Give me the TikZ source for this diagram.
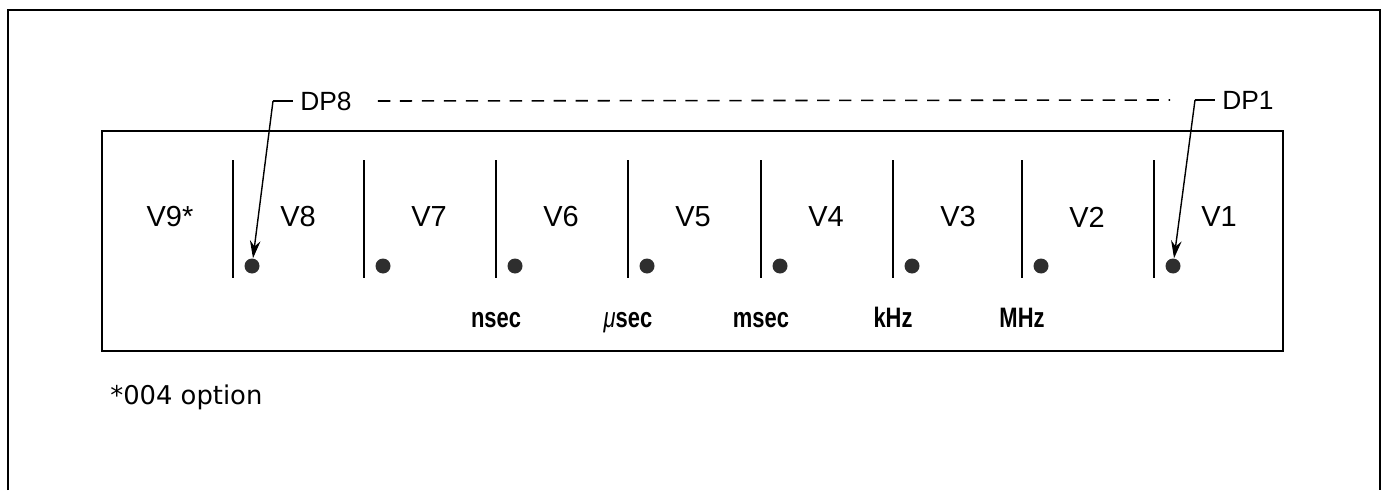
\documentclass[tikz,border=0pt]{standalone}
\usepackage{fontspec}
\setmainfont{Liberation Sans}
\newfontfamily\notefont{DejaVu Sans}
\newfontfamily\unitfont[FakeStretch=0.78]{Liberation Sans}
\usetikzlibrary{arrows.meta}
\tikzset{
  digit/.style={font=\fontsize{16.5}{18}\selectfont},
  dplabel/.style={anchor=west, inner sep=0pt, font=\fontsize{15}{17}\selectfont},
  unit/.style={anchor=base, font=\unitfont\bfseries\fontsize{16}{18}\selectfont},
  dpdot/.style={circle, fill=black!82, inner sep=0pt, minimum size=0.3cm},
  leader/.style={line width=0.8pt, -{Stealth[length=10pt,width=6pt]}}
}
\begin{document}
\begin{tikzpicture}[x=0.02cm, y=-0.02cm]
            \useasboundingbox (0,0) rectangle (1385,490);
            \draw[line width=1.4pt] (8,490) -- (8,10) -- (1380,10) -- (1380,490);
            \draw[line width=1.1pt] (102,131) rectangle (1283,351);
            \node[digit] (v9) at (170,217) {V9*};
            \foreach \i/\x in {8/233,7/364,6/496,5/628,4/761,3/893,2/1022,1/1154} {
                \draw[line width=0.9pt] (\x,160) -- (\x,278);
                \node[dpdot] (d\i) at (\x+19,266) {};
                \node[digit] (v\i) at (\x+65,217) {V\i};
            }
            \node[unit] (ns) at (496,327) {nsec};
            \node[unit] (us) at (628,327) {{\mdseries\itshape μ}sec};
            \node[unit] (ms) at (761,327) {msec};
            \node[unit] (khz) at (893,327) {kHz};
            \node[unit] (mhz) at (1022,327) {MHz};
            \coordinate (k8) at (273,101);
            \coordinate (k1) at (1195,100);
            \node[dplabel] (dp8) at (300,101) {DP8};
            \node[dplabel] (dp1) at (1222,100) {DP1};
            \draw[line width=0.8pt] ([xshift=-4pt]dp8.west) -- (k8);
            \draw[line width=0.8pt] ([xshift=-4pt]dp1.west) -- (k1);
            \draw[leader] (k8) -- (d8);
            \draw[leader] (k1) -- (d1);
            \draw[line width=0.9pt, dash pattern=on 7pt off 5.5pt] ([xshift=0.52cm]dp8.east) -- ([xshift=-0.5cm]k1);
            \node[anchor=west, inner sep=0pt, font=\notefont\fontsize{14.7}{16}\selectfont] (note) at (110,397) {*004 option};
        \end{tikzpicture}
\end{document}
